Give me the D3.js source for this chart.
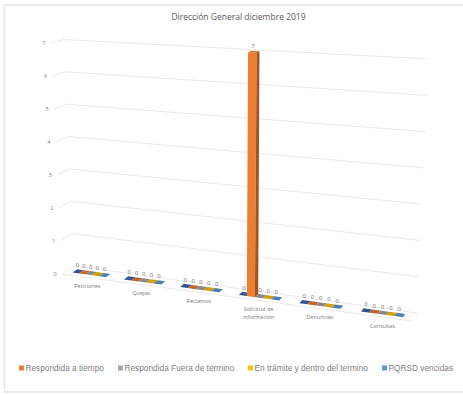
<!DOCTYPE html>
<html lang="es">
<head>
<meta charset="utf-8">
<script src="https://cdn.jsdelivr.net/npm/d3@7/dist/d3.min.js"></script>
<style>
  html, body { margin: 0; padding: 0; background: #fff; }
  svg { display: block; }
</style>
</head>
<body>
<svg id="chart" width="463" height="394"></svg>
<script>
const chartTitle = "Dirección General diciembre 2019";
const categories = [["Peticiones"], ["Quejas"], ["Reclamos"], ["Solicitud de", "Información"], ["Denuncias"], ["Consultas"]];
const valueTicks = [0, 1, 2, 3, 4, 5, 6, 7];

const seriesNames = ["", "Respondida a tiempo", "Respondida Fuera de termino", "En trámite y dentro del termino", "PQRSD vencidas"];
const seriesColors = ["#3f68b0", "#ed7d31", "#a5a5a5", "#ffc000", "#5b9bd5"];

const seriesTotal = [0, 0, 0, 0, 0, 0];
const seriesOnTime = [0, 0, 0, 7, 0, 0];
const seriesLate = [0, 0, 0, 0, 0, 0];
const seriesInProgress = [0, 0, 0, 0, 0, 0];
const seriesOverdue = [0, 0, 0, 0, 0, 0];
const seriesValues = [seriesTotal, seriesOnTime, seriesLate, seriesInProgress, seriesOverdue];

const legendX = [19, 118, 248, 382];

const svg = d3.select("#chart");

// Card outline
svg.append("rect").attr("x", 4.5).attr("y", 5).attr("width", 480).attr("height", 387)
  .attr("fill", "#fff").attr("stroke", "#e7e7e7").attr("stroke-width", 1.6);

svg.append("text").attr("x", 238.5).attr("y", 20).attr("text-anchor", "middle")
  .attr("font-family", "'Open Sans', sans-serif").attr("font-size", 8.5).attr("fill", "#595959")
  .text(chartTitle);

// Oblique projection with foreshortening: categories spread out toward the viewer's right.
const sAcross = d3.scalePow().exponent(1.09).domain([0, categories.length]).range([0, 1]);
const sHeight = d3.scaleLinear().domain([0, 7]).range([0, 1]);
const floorFront = { x: d3.scaleLinear([0, 1], [62, 412]), y: d3.scaleLinear([0, 1], [274, 321]) };
const floorBack  = { x: d3.scaleLinear([0, 1], [74, 417]), y: d3.scaleLinear([0, 1], [266, 313]) };
const roofFront  = { x: d3.scaleLinear([0, 1], [51, 425]), y: d3.scaleLinear([0, 1], [43, 63]) };
const roofBack   = { x: d3.scaleLinear([0, 1], [63, 428]), y: d3.scaleLinear([0, 1], [39.5, 59]) };

function project(c, depth, v) {
  const t = sAcross(c), h = sHeight(v);
  const fx = floorFront.x(t) + (floorBack.x(t) - floorFront.x(t)) * depth;
  const fy = floorFront.y(t) + (floorBack.y(t) - floorFront.y(t)) * depth;
  const rx = roofFront.x(t) + (roofBack.x(t) - roofFront.x(t)) * depth;
  const ry = roofFront.y(t) + (roofBack.y(t) - roofFront.y(t)) * depth;
  return [fx + (rx - fx) * h, fy + (ry - fy) * h];
}

const line = d3.line();
const grid = svg.append("g").attr("fill", "none").attr("stroke", "#e9e9e9").attr("stroke-width", 1);

// Side wall and back wall gridlines
grid.selectAll("path.value").data(valueTicks).join("path").attr("class", "value")
  .attr("d", v => line([project(0, 0, v), project(0, 1, v), project(categories.length, 1, v)]));

// Front edge of the floor
grid.append("path").attr("d", line([project(0, 0, 0), project(categories.length, 0, 0)]));

svg.append("g").selectAll("text").data(valueTicks).join("text")
  .attr("x", v => project(0, 0, v)[0] - 7)
  .attr("y", v => project(0, 0, v)[1] + 2)
  .attr("text-anchor", "middle")
  .attr("font-family", "'Open Sans', sans-serif").attr("font-size", 5.4).attr("fill", "#7a7a7a")
  .text(d => d);

// Columns, each a box drawn from its value
const groupWidth = 0.67, depthNear = 0.3, depthFar = 0.7;
const band = d3.scaleBand().domain(d3.range(seriesNames.length))
  .range([(1 - groupWidth) / 2, 1 - (1 - groupWidth) / 2]);

const marks = [];
categories.forEach((_, c) => seriesNames.forEach((_, s) => {
  marks.push({ c, s, value: seriesValues[s][c], a: c + band(s), b: c + band(s) + band.bandwidth() });
}));
// Tall columns go last so they sit over the flat neighbours
marks.sort((p, q) => p.value - q.value);

const columns = svg.append("g").selectAll("g").data(marks).join("g");
const closed = pts => line(pts) + "Z";

columns.append("path").attr("fill", d => d.value > 0 ? d3.color(seriesColors[d.s]).darker(0.3) : d3.color(seriesColors[d.s]).darker(0.55))
  .attr("d", d => closed([project(d.a, depthNear, d.value), project(d.b, depthNear, d.value),
                          project(d.b, depthFar, d.value), project(d.a, depthFar, d.value)]));
columns.filter(d => d.value > 0).append("path").attr("fill", d => seriesColors[d.s])
  .attr("d", d => closed([project(d.a, depthNear, 0), project(d.b, depthNear, 0),
                          project(d.b, depthNear, d.value), project(d.a, depthNear, d.value)]));
columns.filter(d => d.value > 0).append("path").attr("fill", d => d3.color(seriesColors[d.s]).darker(1.1))
  .attr("d", d => closed([project(d.b, depthNear, 0), project(d.b, depthFar, 0),
                          project(d.b, depthFar, d.value), project(d.b, depthNear, d.value)]));

// Value labels above each column
svg.append("g").selectAll("text").data(marks).join("text")
  .attr("x", d => project((d.a + d.b) / 2, 0.5, d.value)[0] - 0.5)
  .attr("y", d => project((d.a + d.b) / 2, 0.5, d.value)[1] - 4)
  .attr("text-anchor", "middle")
  .attr("font-family", "'Open Sans', sans-serif").attr("font-size", 5.8).attr("fill", "#6a6a6a")
  .text(d => d.value);

// Category labels under the front edge of the floor
svg.append("g").selectAll("text").data(categories).join("text")
  .attr("text-anchor", "middle")
  .attr("font-family", "'Open Sans', sans-serif").attr("font-size", 5.5).attr("fill", "#7a7a7a")
  .attr("transform", (d, i) => {
    const p = project(i + 0.5, 0, 0);
    return `translate(${p[0] + 2},${p[1] + 11})`;
  })
  .selectAll("tspan").data(d => d).join("tspan")
  .attr("x", 0).attr("dy", (d, i) => i ? 8 : 0).text(d => d);

// Legend: the first series carries no entry
const legendItems = seriesNames.map((name, i) => ({ name, color: seriesColors[i] })).filter(d => d.name);
const legend = svg.append("g").selectAll("g").data(legendItems).join("g")
  .attr("transform", (d, i) => `translate(${legendX[i]},365.5)`);
legend.append("rect").attr("width", 5).attr("height", 5).attr("fill", d => d.color);
legend.append("text").attr("x", 6.5).attr("y", 5.3)
  .attr("font-family", "'Liberation Sans', Arial, sans-serif").attr("font-size", 8.3).attr("fill", "#7f7f7f")
  .text(d => d.name);
</script>
</body>
</html>
